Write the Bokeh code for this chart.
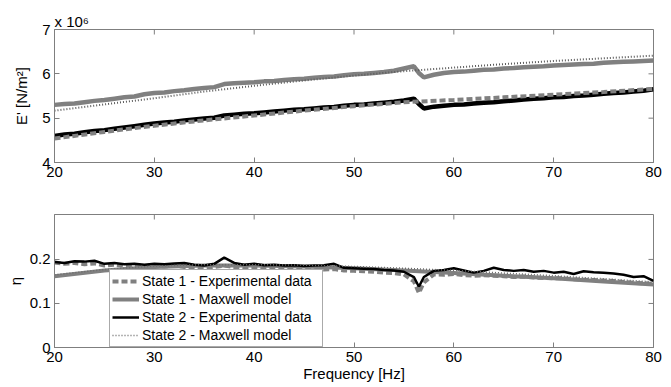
import math
from bokeh.plotting import figure
from bokeh.models import LinearAxis, Range1d, FixedTicker, Legend, LegendItem
from bokeh.layouts import column
from bokeh.embed import file_html
from bokeh.resources import INLINE

# ---------------- data ----------------
freq_exp = [20, 21, 22, 23, 24, 25, 26, 27, 28, 29,
            30, 31, 32, 33, 34, 35, 36, 37, 38, 39,
            40, 41, 42, 43, 44, 45, 46, 47, 48, 49,
            50, 51, 52, 53, 54, 55, 56, 56.5, 57, 58, 59,
            60, 61, 62, 63, 64, 65, 66, 67, 68, 69,
            70, 71, 72, 73, 74, 75, 76, 77, 78, 79, 80]
freq_model = [20, 25, 30, 35, 40, 45, 50, 55, 60, 65, 70, 75, 80]

# Storage modulus E' (x 10^6 N/m^2)
E_gray_solid = [5.30, 5.32, 5.33, 5.36, 5.39, 5.41, 5.44, 5.47, 5.49, 5.54,
                5.57, 5.58, 5.61, 5.63, 5.66, 5.68, 5.70, 5.77, 5.79, 5.80,
                5.81, 5.83, 5.84, 5.86, 5.88, 5.89, 5.91, 5.93, 5.94, 5.97,
                5.99, 6.00, 6.02, 6.04, 6.07, 6.12, 6.17, 6.02, 5.92, 5.98, 6.02,
                6.04, 6.05, 6.07, 6.09, 6.10, 6.12, 6.13, 6.15, 6.16, 6.17,
                6.19, 6.20, 6.21, 6.22, 6.23, 6.25, 6.26, 6.27, 6.28, 6.29, 6.30]
E_black = [4.60, 4.63, 4.65, 4.68, 4.71, 4.73, 4.76, 4.79, 4.82, 4.85,
           4.88, 4.90, 4.92, 4.95, 4.97, 4.99, 5.01, 5.06, 5.08, 5.10,
           5.11, 5.13, 5.15, 5.17, 5.19, 5.20, 5.22, 5.24, 5.25, 5.28,
           5.30, 5.31, 5.33, 5.35, 5.37, 5.40, 5.44, 5.32, 5.22, 5.26, 5.28,
           5.30, 5.31, 5.33, 5.35, 5.36, 5.38, 5.40, 5.42, 5.44, 5.45,
           5.47, 5.48, 5.50, 5.51, 5.53, 5.55, 5.57, 5.58, 5.60, 5.62, 5.65]
E_gray_dashed = [4.54, 4.69, 4.83, 4.95, 5.06, 5.17, 5.27, 5.36, 5.41, 5.47, 5.53, 5.59, 5.66]
E_dotted = [5.17, 5.31, 5.45, 5.60, 5.73, 5.85, 5.96, 6.06, 6.14, 6.22, 6.29, 6.35, 6.41]

# Loss factor eta
eta_s1_exp = [0.193, 0.190, 0.192, 0.189, 0.191, 0.186, 0.188, 0.185, 0.186, 0.184,
              0.185, 0.184, 0.186, 0.183, 0.182, 0.181, 0.183, 0.186, 0.183, 0.181,
              0.182, 0.180, 0.181, 0.179, 0.180, 0.178, 0.179, 0.177, 0.178, 0.175,
              0.174, 0.173, 0.172, 0.170, 0.169, 0.166, 0.150, 0.124, 0.148, 0.166, 0.165,
              0.167, 0.164, 0.163, 0.164, 0.163, 0.162, 0.160, 0.161, 0.159, 0.158,
              0.157, 0.157, 0.155, 0.154, 0.153, 0.152, 0.151, 0.149, 0.147, 0.146, 0.144]
eta_s2_exp = [0.194, 0.192, 0.196, 0.195, 0.197, 0.190, 0.192, 0.189, 0.190, 0.188,
              0.190, 0.189, 0.191, 0.192, 0.188, 0.186, 0.190, 0.204, 0.192, 0.188,
              0.190, 0.187, 0.188, 0.186, 0.187, 0.185, 0.186, 0.187, 0.190, 0.181,
              0.180, 0.179, 0.178, 0.176, 0.175, 0.172, 0.160, 0.138, 0.160, 0.174, 0.176,
              0.180, 0.175, 0.170, 0.174, 0.181, 0.176, 0.174, 0.176, 0.172, 0.174,
              0.170, 0.172, 0.167, 0.173, 0.171, 0.170, 0.168, 0.165, 0.160, 0.162, 0.151]
eta_s1_model = [0.162, 0.175, 0.183, 0.186, 0.186, 0.184, 0.180, 0.175, 0.169, 0.163, 0.157, 0.150, 0.143]
eta_s2_model = [0.165, 0.177, 0.185, 0.188, 0.188, 0.187, 0.184, 0.180, 0.175, 0.169, 0.163, 0.156, 0.149]

x_ticks = [20, 30, 40, 50, 60, 70, 80]
E_ticks = [4, 5, 6, 7]
eta_ticks = [0, 0.1, 0.2]
legend_labels = ["State 1 - Experimental data", "State 1 - Maxwell model",
                 "State 2 - Experimental data", "State 2 - Maxwell model"]

# ---------------- style ----------------
FONT = "Liberation Sans"
FRAME = "#7f7f7f"
GRAY = "#808080"
DOT = "#5a5a5a"
W = 671


def style_axis(ax):
    ax.axis_line_color = FRAME
    ax.major_tick_line_color = FRAME
    ax.major_tick_in = 5
    ax.major_tick_out = 0
    ax.minor_tick_line_color = None
    ax.major_label_text_font = FONT
    ax.major_label_text_color = "black"
    ax.major_label_text_font_size = "15px"
    ax.major_label_standoff = 4
    ax.axis_label_text_font = FONT
    ax.axis_label_text_font_size = "15px"
    ax.axis_label_text_font_style = "normal"
    ax.axis_label_text_color = "black"


def make_fig(h, top, bottom, yr, yt):
    p = figure(width=W, height=h, x_range=Range1d(20, 80), y_range=Range1d(*yr),
               output_backend="svg", toolbar_location=None,
               x_axis_type=None, y_axis_type=None,
               min_border_left=54, min_border_right=18,
               min_border_top=top, min_border_bottom=bottom)
    p.outline_line_color = FRAME
    p.background_fill_color = "white"
    p.border_fill_color = "white"
    xb = LinearAxis(ticker=FixedTicker(ticks=x_ticks))
    yl = LinearAxis(ticker=FixedTicker(ticks=yt))
    style_axis(xb)
    style_axis(yl)
    p.add_layout(xb, "below")
    p.add_layout(yl, "left")
    # mirrored inward ticks on the top and right edges of the box
    p.ray(x=x_ticks, y=[yr[1]] * len(x_ticks), length=5, length_units="screen",
          angle=-math.pi / 2, line_color=FRAME, line_width=1)
    p.ray(x=[80] * len(yt), y=yt, length=5, length_units="screen",
          angle=math.pi, line_color=FRAME, line_width=1)
    return p, xb, yl


# ---------------- top panel ----------------
p1, xb1, yl1 = make_fig(188, 29, 26, (4, 7), E_ticks)
yl1.axis_label = "E' [N/m²]"
yl1.axis_label_standoff = 9
p1.title.text = "x 10⁶"
p1.title.align = "left"
p1.title.text_font = FONT
p1.title.text_font_size = "15px"
p1.title.text_font_style = "normal"
p1.title.text_color = "black"
p1.title.standoff = 0
p1.title.offset = 0

p1.line(freq_exp, E_gray_solid, line_color=GRAY, line_width=4.5)
p1.line(freq_exp, E_black, line_color="black", line_width=4.5)
p1.line(freq_model, E_gray_dashed, line_color=GRAY, line_width=4, line_dash="6 3")
p1.line(freq_model, E_dotted, line_color=DOT, line_width=2, line_dash="1 2")

# ---------------- bottom panel ----------------
p2, xb2, yl2 = make_fig(199, 26, 40, (0, 0.302), eta_ticks)
yl2.axis_label = "η"
yl2.axis_label_standoff = 3
xb2.axis_label = "Frequency [Hz]"
xb2.axis_label_standoff = 0
xb2.major_label_standoff = 4

r1 = p2.line(freq_exp, eta_s1_exp, line_color=GRAY, line_width=4, line_dash="6 3")
r2 = p2.line(freq_model, eta_s1_model, line_color=GRAY, line_width=4)
r3 = p2.line(freq_exp, eta_s2_exp, line_color="black", line_width=2.5)
r4 = p2.line(freq_model, eta_s2_model, line_color="#6a6a6a", line_width=1.5, line_dash="1 2")

legend = Legend(items=[LegendItem(label=legend_labels[0], renderers=[r1]),
                       LegendItem(label=legend_labels[1], renderers=[r2]),
                       LegendItem(label=legend_labels[2], renderers=[r3]),
                       LegendItem(label=legend_labels[3], renderers=[r4])],
                location=(55, 0))
legend.label_text_font = FONT
legend.label_text_font_size = "14px"
legend.label_text_color = "black"
legend.glyph_width = 27
legend.glyph_height = 16
legend.label_height = 18
legend.label_width = 178
legend.label_standoff = 3
legend.spacing = 0
legend.padding = 2
legend.margin = 0
legend.border_line_color = "#555555"
legend.border_line_width = 1
legend.background_fill_alpha = 1
p2.add_layout(legend)

layout = column(p1, p2, spacing=0)
open("out.html", "w").write(file_html(layout, INLINE))
